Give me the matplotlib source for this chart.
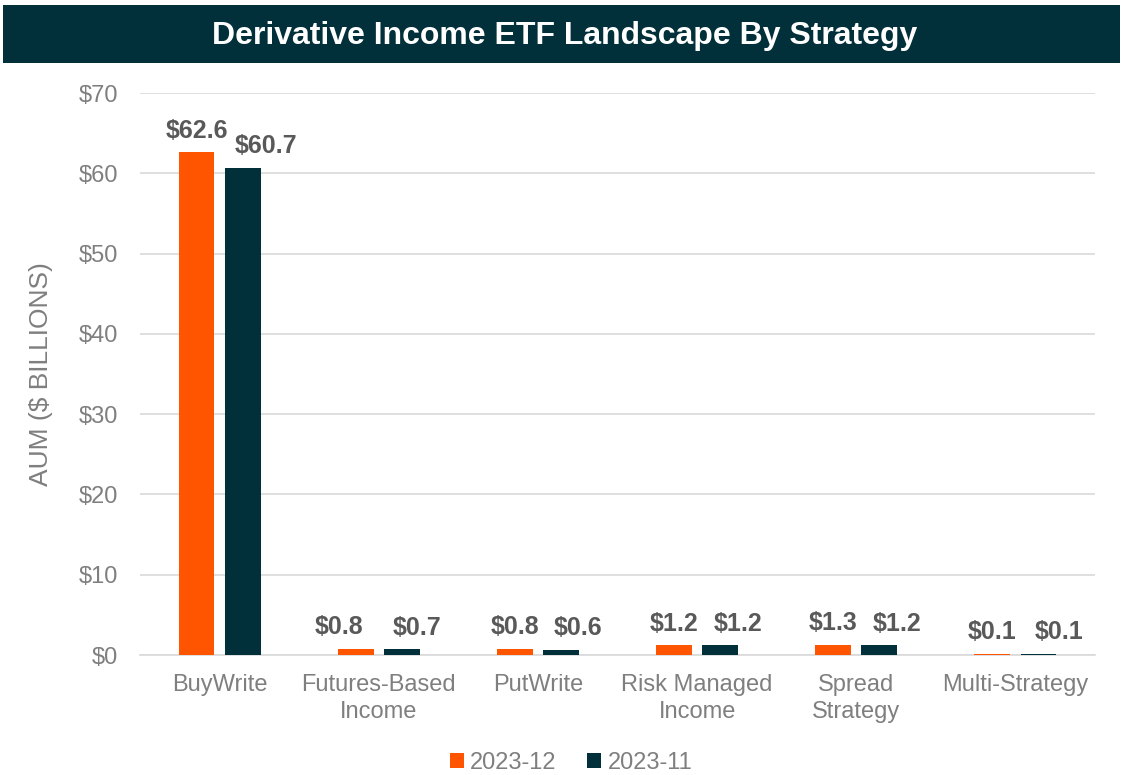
import matplotlib
matplotlib.use("Agg")
import matplotlib.pyplot as plt
import numpy as np
from matplotlib.patches import Rectangle

categories = ["BuyWrite", "Futures-Based\nIncome", "PutWrite", "Risk Managed\nIncome", "Spread\nStrategy", "Multi-Strategy"]
series_names = ["2023-12", "2023-11"]
dec_vals = [62.6, 0.8, 0.8, 1.2, 1.3, 0.1]
nov_vals = [60.7, 0.7, 0.6, 1.2, 1.2, 0.1]
yticks = [0, 10, 20, 30, 40, 50, 60, 70]

# label placement nudges (points), layout only
dec_dx = [0, -12, 0, 0, 0, 0]
nov_dx = [17, 11, 12, 13, 13, 15]

plt.rcParams['font.family'] = ['Liberation Sans', 'DejaVu Sans']
orange = "#FF5500"
dark = "#02303A"
gray = "#595959"
tgray = "#7F7F7F"

fig = plt.figure(figsize=(11.22, 7.75), dpi=100)
# title bar
fig.patches.append(Rectangle((3/1122, 1-63/775), 1117/1122, 58/775, transform=fig.transFigure,
                             facecolor=dark, edgecolor='none', zorder=0))
fig.text(0.503, 1-36/775, "Derivative Income ETF Landscape By Strategy", ha='center', va='center',
         color='white', fontsize=23, fontweight='bold')

ax = fig.add_axes([140/1122, 1-655/775, 955/1122, 562/775])
x = np.arange(len(categories))
w = 0.226
off = 0.145
b1 = ax.bar(x - off, dec_vals, w, color=orange, label=series_names[0], zorder=3)
b2 = ax.bar(x + off, nov_vals, w, color=dark, label=series_names[1], zorder=3)
for bars, vals, dxs in ((b1, dec_vals, dec_dx), (b2, nov_vals, nov_dx)):
    for r, v, dx in zip(bars, vals, dxs):
        ax.annotate(f"${v:.1f}", (r.get_x() + r.get_width()/2, v), xytext=(dx, 7),
                    textcoords='offset points', ha='center', va='bottom',
                    fontsize=18, fontweight='bold', color=gray)

ax.set_xlim(-0.5, len(categories) - 0.5)
ax.set_ylim(0, 70)
ax.set_yticks(yticks)
ax.set_yticklabels([f"${t}" for t in yticks])
ax.set_xticks(x)
ax.set_xticklabels(categories)
ax.tick_params(axis='both', length=0, colors=tgray, labelsize=17)
ax.tick_params(axis='x', pad=14)
ax.tick_params(axis='y', pad=16)
for lbl in ax.get_xticklabels():
    lbl.set_linespacing(1.25)
ax.grid(axis='y', color='#D9D9D9', linewidth=1.2, zorder=0)
for s in ['top', 'right', 'left']:
    ax.spines[s].set_visible(False)
ax.spines['bottom'].set_color('#D9D9D9')
ax.spines['bottom'].set_linewidth(1.2)
ax.set_ylabel("AUM ($ BILLIONS)", fontsize=19, color=tgray, labelpad=18)

leg = fig.legend(loc='center', bbox_to_anchor=(0.509, 1-763/775), ncol=2, frameon=False,
                 fontsize=17, handlelength=0.6, handleheight=0.6, handletextpad=0.25,
                 columnspacing=1.3, labelcolor=tgray)

fig.savefig("out.png", dpi=100, facecolor='white')
